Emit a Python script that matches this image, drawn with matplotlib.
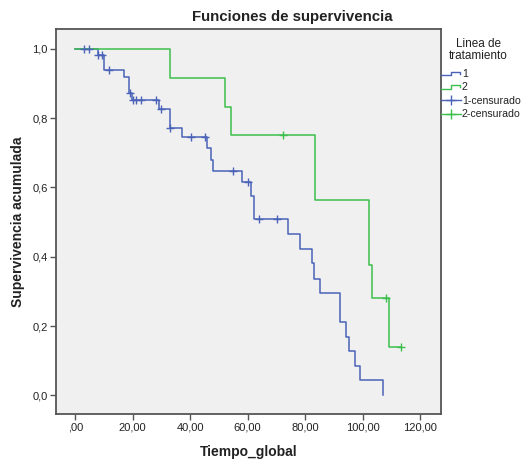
import numpy as np
import matplotlib
matplotlib.use("Agg")
import matplotlib.pyplot as plt
from matplotlib.lines import Line2D
from matplotlib.legend_handler import HandlerBase

plt.rcParams['font.family'] = ['Liberation Sans', 'DejaVu Sans']

# Kaplan-Meier estimates per treatment line: event times and survival after each step
times_1 = [0.0, 8.0, 10.0, 17.0, 18.6, 19.9, 29.2, 33.0, 37.0, 45.7, 47.1, 48.0,
           57.9, 61.0, 62.2, 74.1, 78.2, 82.3, 83.2, 85.2, 92.1, 94.3, 95.1,
           97.4, 99.1, 107.2]
surv_1 = [1.0, 0.982, 0.939, 0.919, 0.873, 0.852, 0.826, 0.772, 0.745, 0.713,
          0.679, 0.648, 0.615, 0.575, 0.508, 0.465, 0.421, 0.381, 0.337, 0.296,
          0.2115, 0.169, 0.128, 0.0855, 0.044, 0.0]
censored_1 = [3.0, 4.9, 8.0, 9.2, 11.8, 18.9, 20.0, 21.0, 22.9, 28.1, 29.7, 33.0,
              40.2, 45.1, 54.8, 60.2, 64.0, 70.1]

times_2 = [0.0, 33.0, 52.1, 54.1, 83.3, 102.3, 103.4, 109.3]
surv_2 = [1.0, 0.9167, 0.8333, 0.75, 0.5625, 0.375, 0.28125, 0.1406]
censored_2 = [72.2, 108.1, 113.3]

group_labels = ['1', '2', '1-censurado', '2-censurado']
x_ticks = [0, 20, 40, 60, 80, 100, 120]
x_ticklabels = [',00', '20,00', '40,00', '60,00', '80,00', '100,00', '120,00']
y_ticks = [0.0, 0.2, 0.4, 0.6, 0.8, 1.0]
y_ticklabels = ['0,0', '0,2', '0,4', '0,6', '0,8', '1,0']

BLUE = '#4a63b8'
GREEN = '#3cbf4c'
FRAME = '#555555'
TEXT = '#222222'

fig = plt.figure(figsize=(5.21, 4.62), dpi=100)
fig.patch.set_facecolor('white')
ax = fig.add_axes([0.1075, 0.1039, 0.7385, 0.8331])
ax.set_facecolor('#f0f0f0')


def survival_at(t_events, s_events, t):
    idx = np.searchsorted(np.asarray(t_events), t, side='right') - 1
    return np.asarray(s_events)[idx]


def draw_curve(t_events, s_events, censored, color):
    t = list(t_events)
    s = list(s_events)
    end = max(max(censored), t[-1])
    if end > t[-1]:
        t.append(end)
        s.append(s[-1])
    ax.step(t, s, where='post', color=color, lw=1.1, zorder=3)
    cy = survival_at(t_events, s_events, np.asarray(censored))
    ax.plot(censored, cy, ls='none', marker='+', ms=6, mew=1.0,
            color=color, zorder=4)


draw_curve(times_1, surv_1, censored_1, BLUE)
draw_curve(times_2, surv_2, censored_2, GREEN)

ax.set_xlim(-6.7, 127.2)
ax.set_ylim(-0.054, 1.057)
ax.set_xticks(x_ticks)
ax.set_xticklabels(x_ticklabels)
ax.set_yticks(y_ticks)
ax.set_yticklabels(y_ticklabels)
ax.tick_params(axis='both', direction='out', length=4, width=1.0,
               color=FRAME, labelcolor=TEXT, labelsize=8, pad=2)
for sp in ax.spines.values():
    sp.set_color(FRAME)
    sp.set_linewidth(1.3)

ax.set_xlabel('Tiempo_global', fontsize=10, fontweight='bold', color=TEXT,
              labelpad=9)
ax.set_ylabel('Supervivencia acumulada', fontsize=10, fontweight='bold',
              color=TEXT, labelpad=5)
fig.text(0.5615, 0.963, 'Funciones de supervivencia', ha='center',
         va='center', fontsize=10.8, fontweight='bold', color=TEXT)


class StepHandler(HandlerBase):
    def create_artists(self, legend, orig_handle, xdescent, ydescent,
                       width, height, fontsize, trans):
        x0 = -xdescent
        y0 = -ydescent + height * 0.2
        h = height * 0.5
        xs = [x0, x0 + 0.5 * width, x0 + 0.5 * width, x0 + 0.95 * width,
              x0 + 0.95 * width]
        ys = [y0, y0, y0 + h, y0 + h, y0 + 0.4 * h]
        line = Line2D(xs, ys, color=orig_handle.get_color(), lw=1.0,
                      transform=trans)
        return [line]


class CensorHandler(HandlerBase):
    def create_artists(self, legend, orig_handle, xdescent, ydescent,
                       width, height, fontsize, trans):
        x0 = -xdescent
        yc = -ydescent + height * 0.45
        line = Line2D([x0, x0 + width], [yc, yc],
                      color=orig_handle.get_color(), lw=1.0, transform=trans)
        mark = Line2D([x0 + width / 2], [yc], marker='+', ms=7, mew=1.0,
                      color=orig_handle.get_color(), transform=trans)
        return [line, mark]


fig.text(0.918, 0.892, 'Linea de\ntratamiento', ha='center', va='center',
         multialignment='center', fontsize=8.5, color=TEXT, linespacing=1.0)

h1 = Line2D([], [], color=BLUE)
h2 = Line2D([], [], color=GREEN)
h3 = Line2D([], [], color=BLUE, marker='+')
h4 = Line2D([], [], color=GREEN, marker='+')
leg = fig.legend([h1, h2, h3, h4], group_labels,
                 handler_map={h1: StepHandler(), h2: StepHandler(),
                              h3: CensorHandler(), h4: CensorHandler()},
                 loc='upper left', bbox_to_anchor=(0.846, 0.851),
                 frameon=False, fontsize=7.6, handlelength=1.9,
                 handletextpad=0.1, labelspacing=0.32, borderpad=0.0,
                 borderaxespad=0.0)
for txt in leg.get_texts():
    txt.set_color(TEXT)

fig.savefig('out.png', dpi=100, facecolor='white')
